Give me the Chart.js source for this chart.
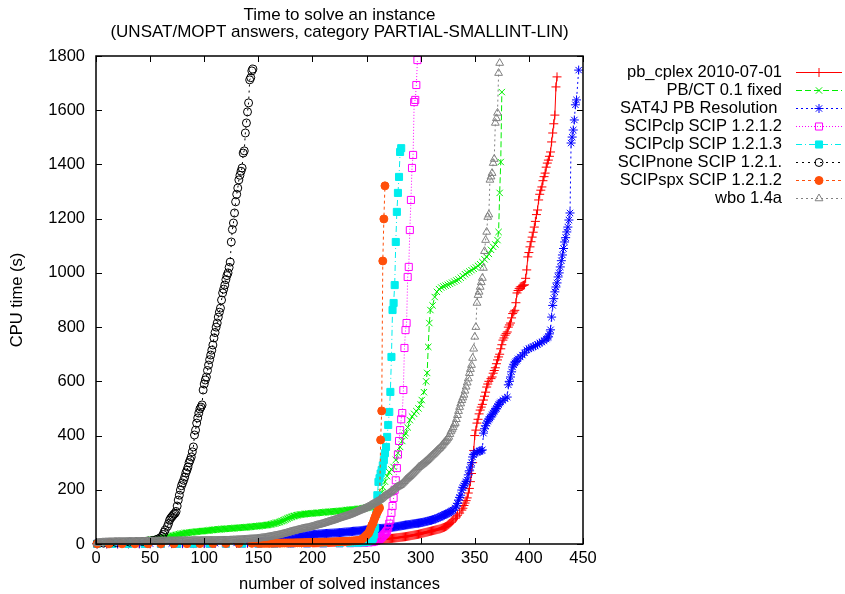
<!DOCTYPE html>
<html>
<head>
<meta charset="utf-8">
<script src="https://cdn.jsdelivr.net/npm/chart.js@4.4.1/dist/chart.umd.min.js"></script>
<style>
  html, body { margin: 0; padding: 0; background: #fff; }
  canvas { display: block; }
</style>
</head>
<body>
<canvas id="chart" width="845" height="594"></canvas>
<script>
// ---- texts and axis ticks ----
const titleLines = ['Time to solve an instance', '(UNSAT/MOPT answers, category PARTIAL-SMALLINT-LIN)'];
const xAxisLabel = 'number of solved instances';
const yAxisLabel = 'CPU time (s)';
const xTicks = [0, 50, 100, 150, 200, 250, 300, 350, 400, 450];
const yTicks = [0, 200, 400, 600, 800, 1000, 1200, 1400, 1600, 1800];

const solverNames = [
  'pb_cplex 2010-07-01',
  'PB/CT 0.1 fixed',
  'SAT4J PB Resolution ',
  'SCIPclp SCIP 1.2.1.2',
  'SCIPclp SCIP 1.2.1.3',
  'SCIPnone SCIP 1.2.1.',
  'SCIPspx SCIP 1.2.1.2',
  'wbo 1.4a'
];

// ---- CPU times: sparse [instance, seconds] pairs, plus runs of consecutive
//      instances (first instance number + one time per instance) ----
const cplexPts = [[1,0.3],[10,0.4],[20,0.5],[30,0.6],[40,0.7],[50,0.8],[60,1],[70,1.1],[80,1.2],[90,1.4],[100,1.5],[110,1.8],[120,2],[130,2.2],[140,2.5],[150,2.8],[160,3],[170,3.3],[180,3.6],[190,4],
[332,95],[333,100],[334,106],[336,114],[338,125],[339,132],[340,142],[341,151],[342,160],[343,170],[344,188],[345,205],[346,230],[347,260],[348,300],[349,345],[350,400],[351,420],[352,446],[353,460],[354,480],[355,494],[356,505],[357,515],[358,531],[359,545],[360,560],[361,579],[362,590],[363,600],[365,610],[366,616],[367,630],[368,640],[369,650],[370,665],[371,679],[372,690],[373,700],[374,720],[375,735],[376,752],[377,760],[378,770],[379,776],[380,782],[381,800],[382,808],[383,815],[384,834],[385,850],[386,856],[387,862],[388,890],[389,926],[390,935],[391,942],[392,948],[393,950],[394,952],[395,954],[396,956],[397,980],[398,1011],[399,1059],[400,1075],[401,1096],[402,1115],[403,1132],[404,1150],[405,1169],[406,1190],[407,1215],[408,1232],[409,1269],[410,1290],[411,1305],[412,1317],[413,1340],[414,1355],[415,1368],[416,1390],[417,1405],[418,1416],[419,1430],[420,1446],[421,1483],[422,1516],[423,1550],[424,1582],[425,1686],[426,1723]];
const cplexRunFrom = 200;
const cplexRun = [4.5,4.6,4.6,4.7,4.8,4.9,5,5.1,5.2,5.3, 5.4,5.5,5.6,5.7,5.8,5.9,6,6.2,6.3,6.5, 6.6,6.8,7,7.2,7.4,7.6,7.8,8,8.2,8.4, 8.6,8.8,9,9.2,9.4,9.6,9.8,10,10.2,10.4, 10.6,10.8,11,11.2,11.4,11.6,11.8,12,12.3,12.5, 12.8,13.1,13.4,13.7,14,14.3,14.6,14.9,15.2,15.5, 15.8,16.1,16.4,16.7,17,17.4,17.8,18.2,18.6,19, 19.4,19.8,20.2,20.6,21,21.5,22,22.5,23,23.5, 24,24.5,25,25.5,26,26.5,27,27.8,28.5,29.2, 30,30.8,31.5,32.2,33,33.8,34.5,35.2,36,37, 38,39,40,41,42,43,44,45,46,47, 48,49,50,51,52,53,54,55,56,57.5, 59,60.5,62,64,66,69,72,76,80,84.5,89];

const pbctPts = [[1,2],[5,4],[10,5],[15,7],[20,8],[25,9],[30,10],[35,11],[40,12],[45,13],
[263,170],[264,190],[265,210],[267,230],[269,250],[271,265],[273,275],[275,284],[277,310],[279,335],[281,358],[283,380],[285,400],[286,409],[288,430],[290,457],[292,470],[294,480],[296,490],[298,500],[300,515],[301,531],[303,560],[305,600],[306,631],[307,727],[308,815],[309,863],[311,880],[313,911],[315,930],[317,940],[319,946],[321,950],[323,953],[325,956],[327,960],[329,964],[331,968],[333,972],[335,976],[337,982],[339,988],[341,995],[343,1000],[345,1005],[347,1010],[349,1015],[351,1020],[353,1026],[355,1032],[357,1040],[359,1050],[361,1059],[363,1070],[365,1085],[367,1096],[369,1105],[371,1121],[372,1151],[373,1295],[374,1409],[375,1667]];
const pbctRunFrom = 50;
const pbctRun = [15,15.5,16,16.5,17,17.5,18,18.5,19,19.5, 20,21,22,22.5,23,24,25,26,27,28, 29,30,31,32,33,34,35,36,37,37.5, 38,39,40,40.5,41,41.5,42,42.5,43,43.5, 44,44.5,45,45.5,46,46.5,47,47,47.5,48, 48,48.5,49,49.5,50,50.5,51,51.5,52,52.5, 53,53,53.5,54,54,54.5,55,55,55.5,56, 56,56.5,56.5,57,57,57.5,58,58,58.5,59, 59,59.5,60,60,60.5,61,61,61.5,61.5,62, 62,62.5,63,63.5,64,64.5,65,65,65.5,66, 66,66.5,67,67.5,68,68.5,69,69.5,70,70.5, 71,72,73,74,75,76,77,78,79,80.5, 82,83.5,85,86.5,88,90,92,94,96,97.5, 99,100.5,102,103,104,105,106,107,108,108.5, 109,109.5,110,110.5,111,111.5,112,112,112.5,113, 113,113.5,114,114,114.5,115,115,115.5,116,116.5, 117,117,117.5,118,118,118.5,119,119,119.5,120, 120,120.5,121,121,121.5,122,122,122.5,123,123.5, 124,124.5,125,125.5,126,126,126.5,127,127,127.5, 128,128.5,129,129.5,130,130.5,131,132,132.5,133, 134,134.5,135,136,137,138,139,140,141,143, 145,150,155];

const sat4jPts = [[1,0.5],[10,0.6],[20,0.8],[30,1],[40,1.2],[50,1.4],[60,1.6],[70,1.8],[80,2],[90,2.3],[100,2.6],[110,3],[120,3.5],[130,4],[140,5],
[332,133],[333,140],[334,150],[335,162],[336,172],[337,180],[338,199],[339,208],[340,215],[341,222],[342,230],[343,236],[344,255],[345,270],[346,284],[347,300],[348,321],[349,330],[350,335],[352,339],[354,342],[355,343],[356,345],[357,347],[358,409],[359,425],[360,436],[361,446],[362,453],[363,460],[364,465],[365,470],[366,477],[367,483],[368,490],[369,495],[370,500],[371,508],[372,514],[373,520],[374,524],[376,530],[378,536],[380,542],[381,587],[382,600],[383,616],[384,635],[385,653],[386,661],[387,668],[388,673],[389,678],[390,683],[392,690],[394,697],[396,705],[398,716],[400,720],[402,724],[404,728],[406,731],[408,736],[410,741],[412,745],[414,750],[416,756],[417,760],[418,764],[419,775],[420,790],[421,837],[422,880],[423,905],[424,930],[425,948],[426,963],[427,985],[428,1000],[429,1022],[430,1045],[431,1066],[432,1090],[433,1114],[434,1130],[435,1151],[436,1169],[437,1195],[438,1221],[439,1479],[440,1501],[441,1527],[442,1564],[443,1620],[444,1638],[446,1748]];
const sat4jRunFrom = 150;
const sat4jRun = [6,6.2,6.5,6.8,7,7.2,7.5,7.8,8,8.2, 8.5,8.8,9,9.2,9.5,9.8,10,10.5,11,11.5, 12,12.5,13,13.5,14,14.5,15,15.8,16.5,17.2, 18,19,20,21,22,23,24,25,26,27, 28,29,30,30.5,31,31.5,32,32.5,33,33.5, 34,34.5,35,35.5,36,36.5,37,37.2,37.5,37.8, 38,38.2,38.5,38.8,39,39.2,39.5,39.8,40,40.2, 40.5,40.8,41,41.2,41.5,41.8,42,42.5,43,43.5, 44,44.2,44.5,44.8,45,45.5,46,46.5,47,47.2, 47.5,47.8,48,48.5,49,49.5,50,50.5,51,51.5, 52,52.5,53,53.5,54,54.2,54.5,54.8,55,55.5, 56,56.5,57,57.2,57.5,57.8,58,58.5,59,59.5, 60,60.5,61,61.5,62,62.5,63,63.5,64,64.8, 65.5,66.2,67,67.8,68.5,69.2,70,70.5,71,71.5, 72,72.8,73.5,74.2,75,75.5,76,76.5,77,77.8, 78.5,79.2,80,81,82,83,84,85,86,87, 88,89.2,90.5,91.8,93,95,97,98.5,100,102, 104,106,108,109.5,111,113,115,117.5,120,122.5,125];

const clp2Pts = [[1,0.2],[15,0.3],[30,0.4],[45,0.5],[60,0.6],[75,0.7],[90,0.8],[105,0.9],[120,1],[135,1.1],[150,1.3],[165,1.5],[180,1.7],[195,2],[210,2.3],[225,2.7],[235,3],[242,3.5],[248,4.5],[252,6],[255,7],[257,9],[259,11],[261,15],[262,18],[263,22],[264,26],[265,30],[266,34],[267,38],[268,43],[269,48],[270,60],[271,75],[272,89],[273,115],[274,140],[275,170],[276,200],[277,235],[278,280],[279,330],[280,380],[281,420],[282,460],[283,483],[284,568],[285,723],[286,789],[287,815],[288,985],[289,1022],[290,1158],[291,1269],[292,1387],[293,1435],[294,1630],[295,1638],[296,1693],[297,1785]];

const clp3Pts = [[1,0.3],[15,0.4],[30,0.5],[45,0.6],[60,0.7],[75,0.8],[90,0.9],[105,1],[120,1.1],[135,1.3],[150,1.5],[165,1.7],[180,2],[195,2.3],[210,2.6],[225,3],[235,3.5],[242,4.5],[247,6],[250,8],[252,10],[254,13],[255,16],[256,22],[257,35],[258,60],[259,110],[260,180],[261,229],[262,243],[263,260],[264,273],[265,290],[266,310],[267,335],[268,358],[269,395],[270,439],[271,487],[272,561],[273,690],[274,863],[275,889],[276,955],[277,1114],[278,1225],[279,1295],[280,1354],[281,1446],[282,1460]];

const nonePts = [[1,2],[7,3],[13,4],[19,5],[25,6],[31,7],[37,8],[43,9],[48,11],[52,13],[55,15],[57,18],[59,22],[61,28],[62,35],[63,44],[64,52],[66,65],[67,75],[68,88],[69,95],[70,100],[71,105],[72,110],[73,113],[74,120],[75,140],[76,162],[77,180],[78,199],[79,215],[80,225],[81,235],[82,247],[83,262],[84,272],[85,284],[86,300],[87,310],[88,321],[89,340],[90,358],[91,402],[92,420],[93,446],[94,465],[95,483],[96,498],[97,505],[98,513],[99,568],[100,590],[101,605],[102,616],[103,640],[104,660],[105,680],[106,697],[107,715],[108,734],[109,760],[110,780],[111,800],[112,815],[113,837],[114,855],[115,870],[116,900],[117,926],[118,940],[119,955],[120,975],[121,990],[122,1000],[123,1020],[124,1040],[125,1114],[126,1160],[127,1184],[128,1221],[129,1262],[130,1290],[131,1313],[132,1343],[133,1360],[134,1375],[135,1387],[136,1442],[137,1450],[138,1516],[139,1553],[140,1594],[141,1627],[142,1712],[143,1720],[144,1745],[145,1752]];

const spxPts = [[1,0.5],[12,0.6],[24,0.7],[36,0.8],[48,0.9],[60,1],[72,1.1],[84,1.3],[96,1.5],[108,1.7],[120,1.9],[132,2.1],[144,2.4],
[150,2.5],[152,2.6],[154,2.7],[156,2.8],[158,2.9],[160,3],[162,3.1],[164,3.2],[166,3.3],[168,3.4],[170,3.5],[172,3.6],[174,3.7],[176,3.8],[178,3.9],[180,4],[182,4.1],[184,4.2],[186,4.4],[188,4.6],[190,4.8],[192,5],[194,5.2],[196,5.4],[198,5.6],[200,5.8],[202,6],[204,6.2],[206,6.4],[208,6.6],[210,6.8],[212,7],[214,7.2],[216,7.4],[218,7.6],[220,7.8],[222,8],[224,8.3],[226,8.6],[228,9],[230,9.4],[232,9.8],[234,10.3],[236,10.8],[238,11.5],[240,12.2],[242,13],[244,15],[246,18],
[247,21],[248,25],[249,29],[250,33],[251,37],[252,41],[253,50],[254,60],[255,70],[256,77],[257,89],[258,100],[259,110],[260,118],[261,126],[262,133],[263,384],[264,491],[265,1044],[266,1199],[267,1321]];

const wboPts = [[331,440],[332,446],[333,460],[334,475],[335,490],[336,505],[337,518],[338,530],[339,540],[340,550],[341,565],[342,580],[343,595],[344,610],[345,630],[346,645],[347,660],[348,686],[349,720],[350,764],[351,800],[352,889],[353,918],[354,930],[355,948],[356,965],[357,981],[358,1018],[359,1080],[360,1121],[361,1151],[362,1206],[363,1215],[364,1343],[365,1355],[366,1368],[367,1405],[368,1420],[369,1553],[370,1570],[371,1590],[372,1737],[373,1774]];
const wboRunFrom = 1;
const wboRun = [4,4.5,5,5,5.5,6,6,6,6.5,6.5, 6.5,7,7,7,7,7,7.5,7.5,7.5,7.5, 8,8,8,8,8,8,8,8,8,8, 8.5,8.5,8.5,8.5,8.5,8.5,9,9,9,9, 9,9,9,9,9,9.5,9.5,9.5,9.5,9.5, 9.5,9.5,9.5,9.5,10,10,10,10,10,10, 10,10,10,10,10,10,10.5,10.5,10.5,10.5, 10.5,10.5,10.5,10.5,10.5,11,11,11,11,11, 11,11,11,11,11,11,11,11.5,11.5,11.5, 11.5,11.5,11.5,11.5,11.5,11.5,12,12,12,12, 12,12,12,12,12,12.5,12.5,12.5,12.5,12.5, 12.5,12.5,12.5,12.5,13,13,13,13,13,13, 13,13,13,13.5,13.5,13.5,14,14,14,14.5, 14.8,15,15.2,15.5,15.8,16,16.2,16.5,16.8,17, 17.2,17.5,17.8,18,18.2,18.5,18.8,19,19.5,20, 20.5,21,21.5,22,22.5,23,23.8,24.5,25.2,26, 26.8,27.5,28.2,29,29.8,30.5,31.2,32,33,34, 35,36,37,38,39,40,41.2,42.5,43.8,45, 46,47,48,49,50,51,52,53,54,55, 56,57,57.8,58.5,59.2,60,61,62,63,64, 65.2,66.5,67.8,69,70,71,72,73,74.2,75.5, 76.8,78,79.2,80.5,81.8,83,84.2,85.5,86.8,88, 89.5,91,92.5,94,95.2,96.5,97.8,99,100.2,101.5, 102.8,104,105.5,107,108.5,110,111.8,113.5,115.2,117, 118.8,120.5,122.2,124,125.5,127,128.5,130,132,134, 136,138,140.5,143,145.5,148,150,152,154.5,157, 159.5,162,165,168,171.5,175,177.5,180,182.5,185, 188,191,194,197,200.5,204,207,210,212,214, 216.5,219,223,227,231.5,236,239.5,243,246.5,250, 254,258,262,266,270,274,278.5,283,286,289, 292,295,298.5,302,305.5,309,313,317,321,325, 328.5,332,336,340,344,348,351.5,355,360,365, 370,375,379.5,384,389.5,395,405,415,422,430];

// join the sparse pairs with a run of consecutive instances, ordered by instance
function joinRun(pts, from, run) {
  const all = pts.concat(run.map((v, i) => [from + i, v]));
  return all.sort((a, b) => a[0] - b[0]);
}

const seriesPts = [
  joinRun(cplexPts, cplexRunFrom, cplexRun),
  joinRun(pbctPts, pbctRunFrom, pbctRun),
  joinRun(sat4jPts, sat4jRunFrom, sat4jRun),
  clp2Pts,
  clp3Pts,
  nonePts,
  spxPts,
  joinRun(wboPts, wboRunFrom, wboRun)
];

// ---- line and marker styles, one per solver ----
const styles = [
  { color: '#ff0000', dash: [],           marker: 'cross',    radius: 4.5, filled: false },
  { color: '#00ee00', dash: [6, 3],       marker: 'crossRot', radius: 4.5, filled: false },
  { color: '#0000ff', dash: [2, 3],       marker: 'star',     radius: 4.5, filled: false },
  { color: '#ff00ff', dash: [1, 2],       marker: 'rect',     radius: 5,   filled: false },
  { color: '#00eeee', dash: [6, 3, 1, 3], marker: 'rect',     radius: 5,   filled: true  },
  { color: '#000000', dash: [2, 4],       marker: 'circle',   radius: 4,   filled: false },
  { color: '#ff4f0a', dash: [3, 3],       marker: 'circle',   radius: 4,   filled: true  },
  { color: '#808080', dash: [2, 3],       marker: 'triangle', radius: 4.5, filled: false }
];

const FONT = 'Liberation Sans, Arial, Helvetica, sans-serif';
const TEXT_SIZE = 16.5;
Chart.defaults.font.family = FONT;
Chart.defaults.font.size = TEXT_SIZE;
Chart.defaults.color = '#000';

const datasets = seriesPts.map((pts, i) => {
  const s = styles[i];
  return {
    label: solverNames[i],
    data: pts.map(p => ({ x: p[0], y: p[1] })),
    showLine: true,
    borderColor: s.color,
    borderWidth: 1,
    borderDash: s.dash,
    backgroundColor: s.filled ? s.color : 'rgba(0,0,0,0)',
    pointStyle: s.marker,
    pointRadius: s.radius,
    pointBorderColor: s.color,
    pointBackgroundColor: s.filled ? s.color : 'rgba(0,0,0,0)',
    pointBorderWidth: 1,
    tension: 0,
    clip: 10,
    // later solvers are painted over earlier ones
    order: seriesPts.length - 1 - i
  };
});

// frame with inward ticks on all four sides, plus title and key
const decorations = {
  id: 'decorations',
  afterDatasetsDraw(chart) {
    const { ctx, chartArea: a, scales: { x, y } } = chart;
    const tl = 6;
    ctx.save();
    ctx.strokeStyle = '#000';
    ctx.lineWidth = 1;
    ctx.beginPath();
    xTicks.forEach(v => {
      const px = Math.round(x.getPixelForValue(v)) + 0.5;
      ctx.moveTo(px, a.bottom); ctx.lineTo(px, a.bottom - tl);
      ctx.moveTo(px, a.top);    ctx.lineTo(px, a.top + tl);
    });
    yTicks.forEach(v => {
      const py = Math.round(y.getPixelForValue(v)) + 0.5;
      ctx.moveTo(a.left, py);  ctx.lineTo(a.left + tl, py);
      ctx.moveTo(a.right, py); ctx.lineTo(a.right - tl, py);
    });
    ctx.stroke();
    ctx.lineWidth = 1.5;
    ctx.strokeRect(a.left, a.top, a.right - a.left, a.bottom - a.top);
    ctx.restore();
  },
  afterDraw(chart) {
    const { ctx, chartArea: a } = chart;
    ctx.save();
    ctx.fillStyle = '#000';
    ctx.font = '17px ' + FONT;
    ctx.textAlign = 'center';
    ctx.textBaseline = 'middle';
    const cx = (a.left + a.right) / 2;
    ctx.fillText(titleLines[0], cx, 15);
    ctx.fillText(titleLines[1], cx, 32);

    // key: right-aligned names, then a line sample with its marker
    ctx.font = TEXT_SIZE + 'px ' + FONT;
    const textRight = 782, lineStart = 796, lineEnd = 842, markX = 819;
    solverNames.forEach((name, i) => {
      const s = styles[i];
      const ky = 72 + i * 18;
      ctx.textAlign = 'right';
      ctx.fillStyle = '#000';
      ctx.fillText(name, textRight, ky);
      ctx.strokeStyle = s.color;
      ctx.lineWidth = 1;
      ctx.setLineDash(s.dash);
      ctx.beginPath();
      ctx.moveTo(lineStart, ky + 0.5);
      ctx.lineTo(lineEnd, ky + 0.5);
      ctx.stroke();
      ctx.setLineDash([]);
      ctx.fillStyle = s.filled ? s.color : 'rgba(0,0,0,0)';
      Chart.helpers.drawPoint(ctx, { pointStyle: s.marker, radius: s.radius, rotation: 0, borderWidth: 1 }, markX, ky + 0.5);
    });
    ctx.restore();
  }
};

new Chart(document.getElementById('chart'), {
  type: 'scatter',
  data: { datasets },
  options: {
    responsive: false,
    devicePixelRatio: 1,
    animation: false,
    layout: { padding: { left: 0, right: 262, top: 56, bottom: 0 } },
    plugins: {
      legend: { display: false },
      title: { display: false },
      tooltip: { enabled: false }
    },
    scales: {
      x: {
        type: 'linear',
        min: 0, max: 450,
        afterBuildTicks: s => { s.ticks = xTicks.map(v => ({ value: v })); },
        afterFit: s => { s.height = 50; },
        ticks: { padding: 5, color: '#000', font: { size: TEXT_SIZE }, callback: v => String(v) },
        grid: { display: false, drawTicks: false },
        border: { display: false },
        title: { display: true, text: xAxisLabel, color: '#000', font: { size: TEXT_SIZE }, padding: { top: 0, bottom: 0 } }
      },
      y: {
        type: 'linear',
        min: 0, max: 1800,
        afterBuildTicks: s => { s.ticks = yTicks.map(v => ({ value: v })); },
        afterFit: s => { s.width = 96; },
        ticks: { padding: 11, color: '#000', font: { size: TEXT_SIZE }, callback: v => String(v) },
        grid: { display: false, drawTicks: false },
        border: { display: false },
        title: { display: true, text: yAxisLabel, color: '#000', font: { size: TEXT_SIZE }, padding: { top: 8, bottom: 0 } }
      }
    }
  },
  plugins: [decorations]
});
</script>
</body>
</html>
